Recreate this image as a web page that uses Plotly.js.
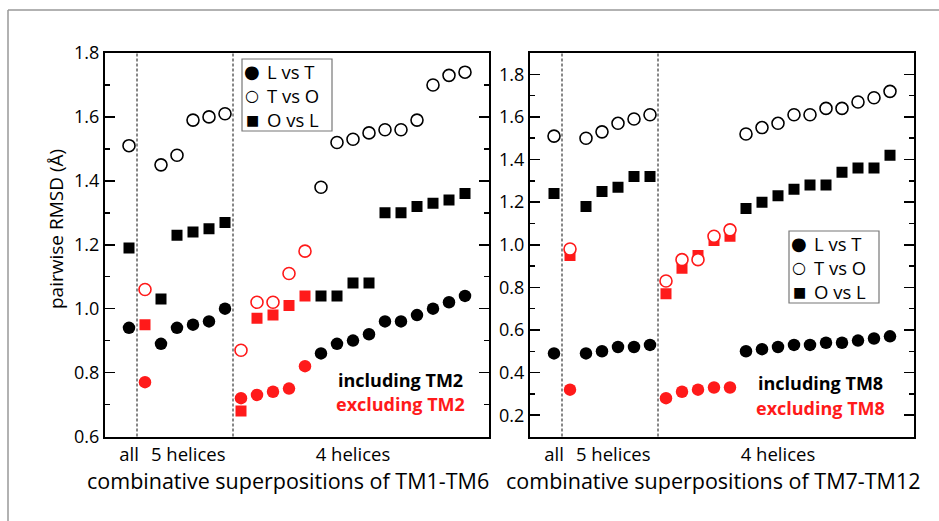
<!DOCTYPE html>
<html>
<head>
<meta charset="utf-8">
<script src="https://cdn.plot.ly/plotly-3.0.1.min.js"></script>
<style>html,body{margin:0;padding:0;background:#fff;}#chart{width:939px;height:521px;}</style>
</head>
<body>
<div id="chart"></div>
<script>
// positions along the x axis (combination index)
const incPos = [0, 2, 3, 4, 5, 6, 12, 13, 14, 15, 16, 17, 18, 19, 20, 21];
const excPos = [1, 7, 8, 9, 10, 11];
const groupTickVals = [0, 3.7, 14];
const groupTickText = ['all', '5 helices', '4 helices'];
const dividers = [0.5, 6.5];
const seriesNames = ['L vs T', 'T vs O', 'O vs L'];
const seriesGlyphs = ['\u25CF', '\u25CB', '\u25A0'];

// TM1-TM6 panel, including TM2 (black)
const L_inc_LvT = [0.94, 0.89, 0.94, 0.95, 0.96, 1.00, 0.86, 0.89, 0.90, 0.92, 0.96, 0.96, 0.98, 1.00, 1.02, 1.04];
const L_inc_TvO = [1.51, 1.45, 1.48, 1.59, 1.60, 1.61, 1.38, 1.52, 1.53, 1.55, 1.56, 1.56, 1.59, 1.70, 1.73, 1.74];
const L_inc_OvL = [1.19, 1.03, 1.23, 1.24, 1.25, 1.27, 1.04, 1.04, 1.08, 1.08, 1.30, 1.30, 1.32, 1.33, 1.34, 1.36];
// TM1-TM6 panel, excluding TM2 (red)
const L_exc_LvT = [0.77, 0.72, 0.73, 0.74, 0.75, 0.82];
const L_exc_TvO = [1.06, 0.87, 1.02, 1.02, 1.11, 1.18];
const L_exc_OvL = [0.95, 0.68, 0.97, 0.98, 1.01, 1.04];

// TM7-TM12 panel, including TM8 (black)
const R_inc_LvT = [0.49, 0.49, 0.50, 0.52, 0.52, 0.53, 0.50, 0.51, 0.52, 0.53, 0.53, 0.54, 0.54, 0.55, 0.56, 0.57];
const R_inc_TvO = [1.51, 1.50, 1.53, 1.57, 1.59, 1.61, 1.52, 1.55, 1.57, 1.61, 1.61, 1.64, 1.64, 1.67, 1.69, 1.72];
const R_inc_OvL = [1.24, 1.18, 1.25, 1.27, 1.32, 1.32, 1.17, 1.20, 1.23, 1.26, 1.28, 1.28, 1.34, 1.36, 1.36, 1.42];
// TM7-TM12 panel, excluding TM8 (red)
const R_exc_LvT = [0.32, 0.28, 0.31, 0.32, 0.33, 0.33];
const R_exc_TvO = [0.98, 0.83, 0.93, 0.93, 1.04, 1.07];
const R_exc_OvL = [0.95, 0.77, 0.89, 0.95, 1.02, 1.04];

const FONT = 'Open Sans, Noto Sans, sans-serif';
const RED = '#ff1a1a';

function sq(x, y, color, xa, ya, name) {
  return {x: x, y: y, xaxis: xa, yaxis: ya, type: 'scatter', mode: 'markers', name: name,
    showlegend: false, hoverinfo: 'skip',
    marker: {symbol: 'square', size: 11, color: color, line: {width: 0}}};
}
function fc(x, y, color, xa, ya, name) {
  return {x: x, y: y, xaxis: xa, yaxis: ya, type: 'scatter', mode: 'markers', name: name,
    showlegend: false, hoverinfo: 'skip',
    marker: {symbol: 'circle', size: 12.5, color: color, line: {width: 0}}};
}
function oc(x, y, color, xa, ya, name) {
  return {x: x, y: y, xaxis: xa, yaxis: ya, type: 'scatter', mode: 'markers', name: name,
    showlegend: false, hoverinfo: 'skip',
    marker: {symbol: 'circle', size: 12, color: '#ffffff', line: {width: 1.6, color: color}}};
}

const traces = [
  sq(incPos, L_inc_OvL, '#000', 'x', 'y', 'O vs L (including TM2)'),
  sq(excPos, L_exc_OvL, RED, 'x', 'y', 'O vs L (excluding TM2)'),
  fc(incPos, L_inc_LvT, '#000', 'x', 'y', 'L vs T (including TM2)'),
  fc(excPos, L_exc_LvT, RED, 'x', 'y', 'L vs T (excluding TM2)'),
  oc(incPos, L_inc_TvO, '#000', 'x', 'y', 'T vs O (including TM2)'),
  oc(excPos, L_exc_TvO, RED, 'x', 'y', 'T vs O (excluding TM2)'),

  sq(incPos, R_inc_OvL, '#000', 'x2', 'y2', 'O vs L (including TM8)'),
  sq(excPos, R_exc_OvL, RED, 'x2', 'y2', 'O vs L (excluding TM8)'),
  fc(incPos, R_inc_LvT, '#000', 'x2', 'y2', 'L vs T (including TM8)'),
  fc(excPos, R_exc_LvT, RED, 'x2', 'y2', 'L vs T (excluding TM8)'),
  oc(incPos, R_inc_TvO, '#000', 'x2', 'y2', 'T vs O (including TM8)'),
  oc(excPos, R_exc_TvO, RED, 'x2', 'y2', 'T vs O (excluding TM8)')
];

const W = 939, H = 521;
const px = function (v) { return v / W; };
const py = function (v) { return (H - v) / H; };
const yDom = [py(436.5), py(53)];

function xAxis(dom, anchor) {
  return {domain: dom, anchor: anchor, range: [-1.5, 22.5], showgrid: false, zeroline: false,
    showline: true, mirror: true, linewidth: 2, linecolor: '#000', ticks: '',
    tickmode: 'array', tickvals: groupTickVals, ticktext: groupTickText,
    tickfont: {family: FONT, size: 18.5, color: '#000'}};
}
function yAxis(range, anchor, tick0) {
  return {domain: yDom, range: range, anchor: anchor, showgrid: false, zeroline: false,
    showline: true, mirror: 'allticks', linewidth: 2, linecolor: '#000',
    ticks: 'inside', ticklen: 10, tickwidth: 1.5, tickcolor: '#000',
    tick0: tick0, dtick: 0.2, tickformat: '.1f',
    tickfont: {family: FONT, size: 18, color: '#000'},
    minor: {ticks: 'inside', ticklen: 5, tickwidth: 1.5, tickcolor: '#000', dtick: 0.1, tick0: tick0, showgrid: false}};
}

const shapes = [];
dividers.forEach(function (d) {
  ['x', 'x2'].forEach(function (xr) {
    shapes.push({type: 'line', xref: xr, yref: (xr === 'x' ? 'y' : 'y2') + ' domain', x0: d, x1: d, y0: 0, y1: 1,
      line: {color: '#111', width: 1, dash: '3px,2px'}});
  });
});
// figure frame (top and left)
shapes.push({type: 'line', xref: 'paper', yref: 'paper', x0: px(8), x1: 1, y0: py(10), y1: py(10), line: {color: '#999', width: 1.5}});
shapes.push({type: 'line', xref: 'paper', yref: 'paper', x0: px(8), x1: px(8), y0: 0, y1: py(10), line: {color: '#999', width: 1.5}});

function txt(x, y, text, size, color, extra) {
  const a = {xref: 'paper', yref: 'paper', x: px(x), y: py(y), text: text, showarrow: false,
    xanchor: 'center', yanchor: 'middle', font: {family: FONT, size: size, color: color}};
  if (extra) Object.assign(a, extra);
  return a;
}

const annotations = [
  txt(400, 380, '<b>including TM2</b>', 18, '#000'),
  txt(400, 404, '<b>excluding TM2</b>', 18, RED),
  txt(820, 383, '<b>including TM8</b>', 18, '#000'),
  txt(820, 408, '<b>excluding TM8</b>', 18, RED),
  txt(288, 480, 'combinative superpositions of TM1-TM6', 21.5, '#000'),
  txt(713, 480, 'combinative superpositions of TM7-TM12', 21.5, '#000'),
  txt(56, 229, 'pairwise RMSD (Å)', 19, '#000', {textangle: -90})
];

// hand-built legend boxes (marker glyph + label)
const glyphSizes = [18, 16, 14];
function addLegend(left, top) {
  shapes.push({type: 'rect', xref: 'paper', yref: 'paper', x0: px(left), x1: px(left + 90), y0: py(top + 72), y1: py(top),
    line: {color: '#777', width: 1.2}, fillcolor: '#fff', layer: 'below'});
  seriesNames.forEach(function (n, i) {
    const yc = top + 12.5 + i * 24;
    annotations.push({xref: 'paper', yref: 'paper', x: px(left + 10), y: py(yc), text: seriesGlyphs[i], showarrow: false,
      xanchor: 'center', yanchor: 'middle', borderpad: 0, font: {family: 'DejaVu Sans', size: glyphSizes[i], color: '#000'}});
    annotations.push({xref: 'paper', yref: 'paper', x: px(left + 24), y: py(yc), text: n, showarrow: false,
      xanchor: 'left', yanchor: 'middle', borderpad: 0, font: {family: FONT, size: 18.5, color: '#000'}});
  });
}
addLegend(242, 59);
addLegend(789, 231);

const layout = {
  width: W, height: H,
  margin: {l: 0, r: 0, t: 0, b: 0},
  paper_bgcolor: '#fff', plot_bgcolor: '#fff',
  font: {family: FONT, color: '#000'},
  xaxis: xAxis([px(105), px(489)], 'y'),
  yaxis: yAxis([0.6, 1.8], 'x', 0.6),
  xaxis2: xAxis([px(530), px(914)], 'y2'),
  yaxis2: yAxis([0.1, 1.9], 'x2', 0.2),
  shapes: shapes,
  annotations: annotations,
  showlegend: false
};

Plotly.newPlot('chart', traces, layout, {staticPlot: true, displayModeBar: false});
</script>
</body>
</html>
